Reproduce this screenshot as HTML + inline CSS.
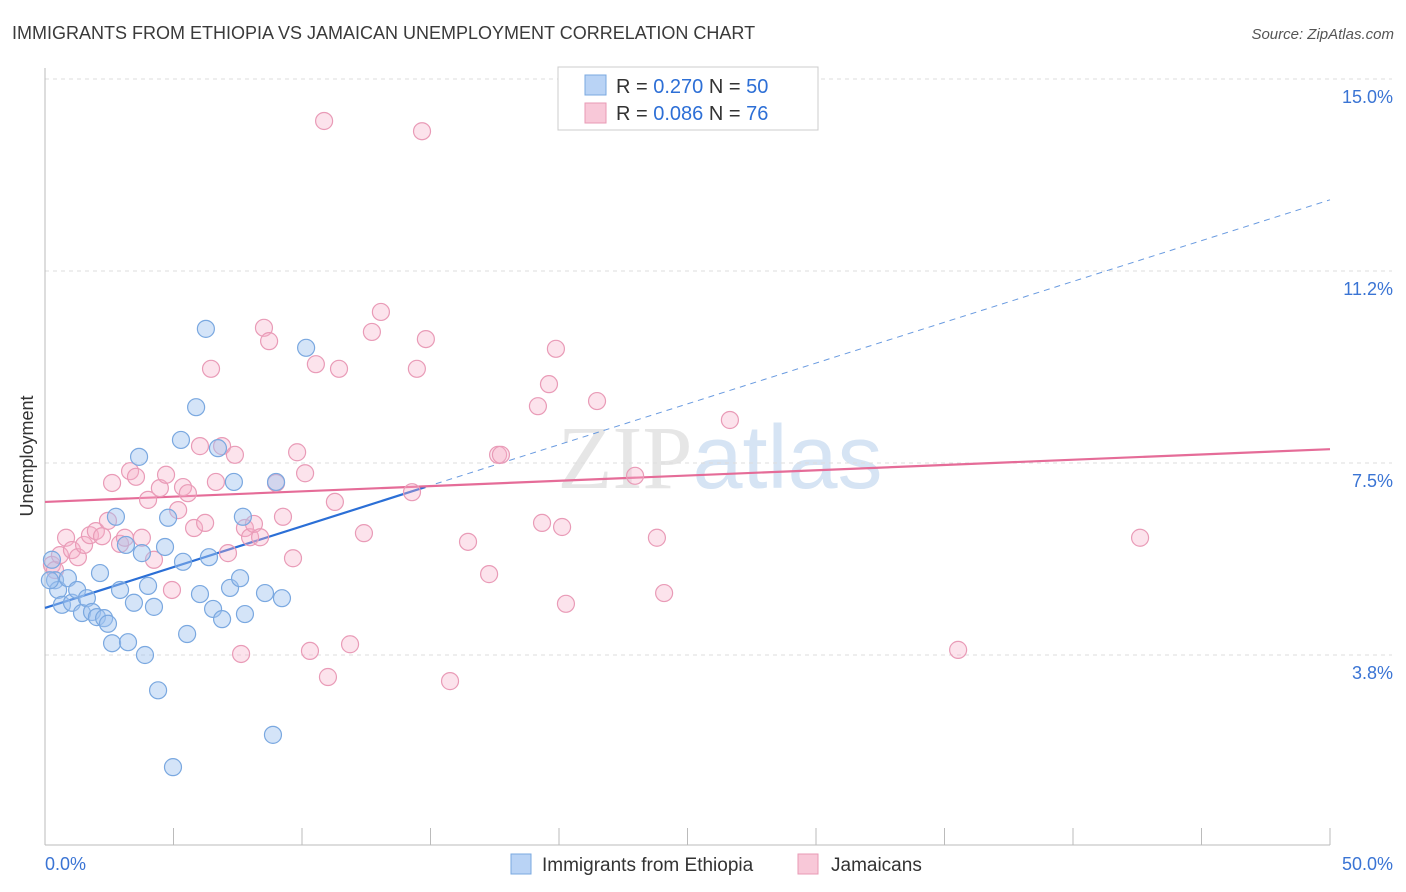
<!DOCTYPE html>
<html><head><meta charset="utf-8"><style>
body{margin:0;background:#fff;font-family:"Liberation Sans",sans-serif;}
svg{display:block}
</style></head><body>
<svg id="chart" width="1406" height="892" xmlns="http://www.w3.org/2000/svg" font-family="Liberation Sans, sans-serif">
<text x="12" y="39" font-size="18" fill="#3a3a3a">IMMIGRANTS FROM ETHIOPIA VS JAMAICAN UNEMPLOYMENT CORRELATION CHART</text>
<text x="1394" y="39" font-size="15" fill="#555" text-anchor="end" font-style="italic">Source: ZipAtlas.com</text>
<text x="720" y="488" font-size="90" fill="#e6e6e6" text-anchor="middle" font-family="Liberation Serif, serif">ZIP<tspan fill="#d6e4f4" font-family="Liberation Sans, sans-serif">atlas</tspan></text>
<g id="grid"></g><g id="axes"></g><g id="trend"></g><g id="pts"></g>
<text transform="translate(33,456) rotate(-90)" font-size="18" fill="#333" text-anchor="middle">Unemployment</text>
<g>
<rect x="558" y="67" width="260" height="63" fill="#fff" stroke="#ccc"/>
<rect x="585" y="75" width="21" height="20" fill="#b9d3f5" stroke="#7aa8e0"/>
<rect x="585" y="103" width="21" height="20" fill="#f8c8d8" stroke="#e89ab5"/>
<text x="616" y="93" font-size="20" fill="#333">R = <tspan fill="#2d6fd6">0.270</tspan>   N = <tspan fill="#2d6fd6">50</tspan></text>
<text x="616" y="120" font-size="20" fill="#333">R = <tspan fill="#2d6fd6">0.086</tspan>   N = <tspan fill="#2d6fd6"> 76</tspan></text>
</g>
<g>
<rect x="511" y="854" width="20" height="20" fill="#b9d3f5" stroke="#7aa8e0"/>
<text x="542" y="871" font-size="19" fill="#333">Immigrants from Ethiopia</text>
<rect x="798" y="854" width="20" height="20" fill="#f8c8d8" stroke="#e89ab5"/>
<text x="831" y="871" font-size="19" fill="#333">Jamaicans</text>
</g>
</svg>
<script>
const yTicks=[15,11.25,7.5,3.75];
const yTickLabels=["15.0%","11.2%","7.5%","3.8%"];
const xTicks=[0,5,10,15,20,25,30,35,40,45,50];
const xTickLabels=["0.0%","50.0%"];
const blueX=[0.27,0.39,0.51,0.66,0.89,1.05,1.25,1.44,1.63,1.83,2.02,2.14,2.30,2.45,2.61,2.76,2.92,3.15,3.23,3.46,3.66,3.77,3.89,4.01,4.24,4.40,4.67,4.79,4.98,5.29,5.37,5.53,5.88,6.03,6.26,6.38,6.54,6.73,6.89,7.20,7.35,7.59,7.70,7.78,8.56,8.87,8.99,9.22,10.16,0.19];
const blueY=[5.61,5.21,5.02,4.73,5.25,4.77,5.02,4.57,4.86,4.59,4.49,5.35,4.47,4.36,3.98,6.45,5.02,5.90,4.00,4.77,7.62,5.74,3.75,5.10,4.69,3.06,5.86,6.43,1.56,7.95,5.57,4.16,8.59,4.94,10.12,5.66,4.65,7.79,4.45,5.06,7.13,5.25,6.45,4.55,4.96,2.19,7.13,4.86,9.75,5.21];
const pinkX=[0.27,0.39,0.58,0.82,1.05,1.28,1.52,1.75,1.98,2.22,2.45,2.61,2.92,3.11,3.31,3.54,3.77,4.01,4.24,4.47,4.71,4.94,5.18,5.37,5.56,5.80,6.03,6.23,6.46,6.65,6.89,7.12,7.39,7.63,7.78,7.98,8.13,8.37,8.52,8.72,8.99,9.26,9.65,9.81,10.12,10.31,10.54,10.86,11.01,11.28,11.44,11.87,12.41,12.72,13.07,14.28,14.47,14.67,14.82,15.76,16.46,17.28,17.63,17.74,19.18,19.34,19.61,19.88,20.12,20.27,21.48,22.96,23.81,24.09,26.65,35.53,42.61];
const pinkY=[5.51,5.41,5.70,6.04,5.80,5.66,5.90,6.09,6.17,6.07,6.37,7.11,5.92,6.04,7.34,7.23,6.04,6.78,5.61,7.01,7.27,5.02,6.58,7.03,6.91,6.23,7.83,6.33,9.34,7.13,7.83,5.74,7.66,3.77,6.23,6.05,6.31,6.05,10.14,9.88,7.11,6.45,5.64,7.71,7.30,3.83,9.43,14.18,3.32,6.74,9.34,3.96,6.13,10.06,10.45,6.93,9.34,13.98,9.92,3.24,5.96,5.33,7.66,7.66,8.61,6.33,9.04,9.73,6.25,4.75,8.71,7.25,6.04,4.96,8.34,3.85,6.04];
const blueTrend=[4.67,12.64];const blueSolidEnd=14.8;
const pinkTrend=[6.74,7.77];
const NS="http://www.w3.org/2000/svg";
const X=v=>45+v*25.7, Y=v=>79+(15-v)*51.2;
function mk(p,t,a){const e=document.createElementNS(NS,t);for(const k in a)e.setAttribute(k,a[k]);document.getElementById(p).appendChild(e);return e;}
mk('grid','line',{x1:45,x2:1392,y1:79,y2:79,stroke:'#ddd','stroke-dasharray':'4,4'});
yTicks.forEach((v,i)=>{
 const l=mk('grid','line',{x1:45,x2:1392,y1:Y(v),y2:Y(v),stroke:'#ddd','stroke-dasharray':'4,4'});
 
 
 const t=mk('axes','text',{x:1393,y:Y(v)+24,'font-size':18,fill:'#3a74d4','text-anchor':'end'});
 
 
 t.textContent=yTickLabels[i];
});
mk('axes','line',{x1:45,x2:45,y1:68,y2:845,stroke:'#bbb'});
mk('axes','line',{x1:45,x2:1330,y1:845,y2:845,stroke:'#bbb'});
xTicks.forEach(v=>{const t=mk('axes','line',{x1:X(v),x2:X(v),y1:828,y2:845,stroke:'#bbb'});
 
 });
[[0,45,'start'],[50,1393,'end']].forEach(([v,x,a],i)=>{const t=mk('axes','text',{x:x,y:870,'font-size':18,fill:'#3a74d4','text-anchor':a});
 
 
 t.textContent=xTickLabels[i];});
const by=x=>blueTrend[0]+(blueTrend[1]-blueTrend[0])*x/50;
function dot(xs,ys,fill,stroke,name){xs.forEach((x,i)=>{const c=mk('pts','circle',{cx:X(x),cy:Y(ys[i]),r:8.5,fill:fill,stroke:stroke,'stroke-width':1.2});
 
 });}
dot(pinkX,pinkY,'rgba(246,176,200,0.35)','#e99bb7','jamaicans-point');
dot(blueX,blueY,'rgba(160,195,240,0.45)','#7aa8e0','ethiopia-point');
let l1=mk('trend','line',{x1:X(0),y1:Y(by(0)),x2:X(blueSolidEnd),y2:Y(by(blueSolidEnd)),stroke:'#2b6fd6','stroke-width':2.2});


let l2=mk('trend','line',{x1:X(blueSolidEnd),y1:Y(by(blueSolidEnd)),x2:X(50),y2:Y(by(50)),stroke:'#6a9be0','stroke-width':1,'stroke-dasharray':'6,5'});


let l3=mk('trend','line',{x1:X(0),y1:Y(pinkTrend[0]),x2:X(50),y2:Y(pinkTrend[1]),stroke:'#e56c98','stroke-width':2.2});


</script>
</body></html>
